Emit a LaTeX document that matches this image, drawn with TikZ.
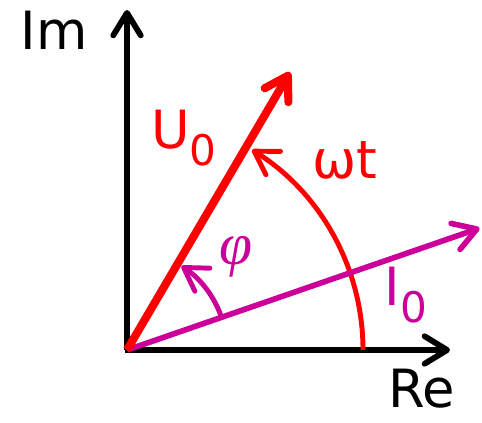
\documentclass[tikz,border=0pt]{standalone}
\usepackage{fontspec}
\setmainfont{DejaVu Sans}
\newfontfamily\greekfont{Liberation Serif}
\usepackage{tikz}
\usetikzlibrary{arrows.meta, calc}
\definecolor{phasered}{RGB}{255,0,0}
\definecolor{phasemag}{RGB}{204,0,153}
\newcommand{\lowidx}[1]{\raisebox{-0.32em}{\fontsize{24}{24}\selectfont #1}}

\begin{document}
\begin{tikzpicture}[
			x=0.02cm, y=0.02cm,
			>={Straight Barb[length=4.5mm, width=5.5mm, line cap=round, line join=round]},
			axis/.style={->, line width=3.3pt, color=black},
			uvec/.style={->, line width=4.6pt, color=phasered},
			ivec/.style={->, line width=3.2pt, color=phasemag},
			angarc/.style={->, line width=2.8pt},
			lbl/.style={font=\fontsize{30}{32}\selectfont, inner sep=0pt}
			]
			\useasboundingbox (-127,-72) rectangle (355,350);
			
			% --- Points ---
			\coordinate (O) at (0,0);
			\coordinate (imtip) at (0,340);
			\coordinate (retip) at (323,0);
			\coordinate (utip) at (59.6:322);
			\coordinate (itip) at (19.07:373);
			
			% --- Axes ---
			\draw[axis] (O) -- (imtip);
			\draw[axis] (-2,0) -- (retip);
			
			% --- Phasors and angles ---
			\draw[angarc, color=phasered] (0:236) arc (0:58:236);
			\draw[ivec] (O) -- (itip);
			\draw[uvec] (O) -- (utip);
			\draw[angarc, color=phasemag] (19.07:100) arc (19.07:57:100);
			
			% --- Labels ---
			\node[lbl] (im) at (-73,320) {Im};
			\node[lbl] (re) at (295,-39) {Re};
			\node[lbl, color=phasered] (u0) at (57,212) {U\lowidx{0}};
			\node[lbl, color=phasered] (wt) at (218,190) {ωt};
			\node[lbl, color=phasemag, font=\fontsize{34}{36}\selectfont] (phi) at (109,93) {\greekfont\itshape φ};
			\node[lbl, color=phasemag] (i0) at (279,55) {I\lowidx{0}};
			
			\end{tikzpicture}
\end{document}
